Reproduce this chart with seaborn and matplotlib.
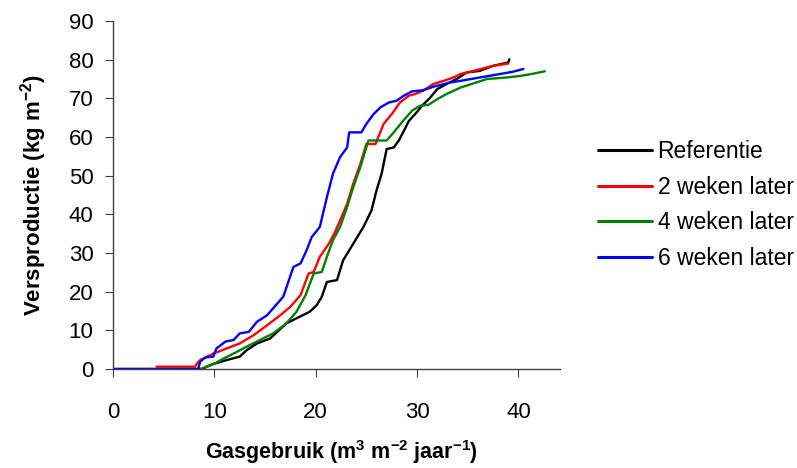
import matplotlib
matplotlib.use("Agg")
import matplotlib.pyplot as plt
import seaborn as sns
import pandas as pd

# ---- data ----
ref_x = [0, 8.8, 9.25, 9.9, 11.2, 12.5, 13.2, 14.2, 15.5, 16.2, 17.1, 18.1, 19.4, 20.1, 20.6, 21.1, 22.1, 22.7, 23.7, 24.7,
         25.5, 26.0, 26.5, 27.0, 27.7, 28.2, 28.7, 29.2, 29.8, 30.5, 31.3, 32.0, 32.9, 33.9, 34.9, 36.2, 37.5, 39.0, 39.1]
ref_y = [0, 0, 0.6, 1.3, 2.3, 3.2, 4.9, 6.6, 7.9, 9.6, 11.8, 13.1, 14.8, 16.5, 18.7, 22.5, 23.0, 28.1, 32.4, 36.7,
         41.0, 46.2, 50.5, 56.9, 57.3, 59.1, 61.6, 64.2, 65.9, 68.1, 70.2, 72.4, 73.7, 75.0, 76.7, 77.1, 78.4, 79.3, 80.1]

w2_x = [4.3, 8.1, 8.3, 8.6, 9.9, 11.2, 12.5, 13.9, 15.2, 16.5, 17.5, 18.5, 19.3, 19.8, 20.4, 21.3, 21.9, 22.4, 23.1, 23.7,
        24.4, 25.0, 25.9, 26.7, 27.5, 28.3, 29.2, 29.8, 30.6, 31.6, 32.6, 33.6, 34.3, 35.9, 37.5, 39.0]
w2_y = [0.6, 0.6, 1.5, 2.3, 4.0, 5.3, 6.6, 8.8, 11.3, 13.9, 16.1, 19.1, 24.7, 25.1, 29.0, 32.4, 35.4, 38.4, 42.7, 47.9,
        53.0, 58.2, 58.2, 63.4, 65.9, 68.9, 70.7, 71.1, 72.0, 73.7, 74.5, 75.4, 76.3, 77.3, 78.4, 79.0]

w4_x = [8.6, 9.25, 10.1, 10.9, 11.9, 13.2, 14.5, 15.8, 17.1, 18.1, 19.0, 19.8, 20.6, 21.1, 21.7, 22.4, 23.1, 23.7, 24.4,
        25.2, 27.0, 27.7, 28.5, 29.5, 30.3, 31.1, 32.0, 32.9, 34.3, 35.6, 36.9, 38.9, 40.2, 41.5, 42.6]
w4_y = [0, 0.6, 1.5, 2.7, 4.0, 5.8, 7.5, 9.2, 11.8, 14.8, 19.1, 24.7, 25.1, 29.0, 33.3, 36.7, 41.9, 47.0, 52.2,
        59.1, 59.1, 61.2, 63.8, 66.8, 68.1, 68.3, 69.8, 71.1, 72.8, 73.9, 75.0, 75.4, 75.8, 76.4, 77.0]

w6_x = [0, 8.4, 8.6, 9.1, 9.9, 10.2, 11.1, 11.9, 12.5, 13.4, 14.2, 15.2, 16.2, 16.8, 17.8, 18.5, 19.1, 19.6, 20.4, 21.1,
        21.7, 22.4, 23.1, 23.3, 24.5, 25.0, 25.7, 26.4, 27.2, 28.0, 28.7, 29.5, 30.6, 31.6, 33.3, 34.9, 36.2, 38.2, 39.5, 40.5]
w6_y = [0, 0, 1.9, 3.0, 3.2, 5.3, 7.1, 7.5, 9.2, 9.6, 12.2, 13.9, 16.9, 18.7, 26.4, 27.3, 30.7, 34.1, 36.7, 44.4,
        50.5, 54.8, 57.3, 61.2, 61.2, 63.4, 65.9, 67.7, 68.9, 69.4, 70.7, 71.8, 72.1, 73.0, 74.1, 74.8, 75.4, 76.3, 76.9, 77.6]

series_names = ["Referentie", "2 weken later", "4 weken later", "6 weken later"]
series_colors = ["#000000", "#ff0000", "#008000", "#0000ff"]
x_ticks = [0, 10, 20, 30, 40]
y_ticks = [0, 10, 20, 30, 40, 50, 60, 70, 80, 90]

frames = []
for name, xs, ys in zip(series_names, [ref_x, w2_x, w4_x, w6_x], [ref_y, w2_y, w4_y, w6_y]):
    frames.append(pd.DataFrame({"x": xs, "y": ys, "serie": name}))
df = pd.concat(frames, ignore_index=True)

sns.set_style("white")
plt.rcParams["font.family"] = ["Liberation Sans", "DejaVu Sans"]
plt.rcParams["mathtext.fontset"] = "custom"
plt.rcParams["mathtext.rm"] = "Liberation Sans"
plt.rcParams["mathtext.bf"] = "Liberation Sans:bold"
plt.rcParams["axes.unicode_minus"] = False

fig = plt.figure(figsize=(7.97, 4.68), dpi=100)
ax = fig.add_axes([113 / 797, 1 - 369 / 468, (560 - 113) / 797, (369 - 21) / 468])

sns.lineplot(data=df, x="x", y="y", hue="serie", hue_order=series_names,
             palette=dict(zip(series_names, series_colors)), sort=False, estimator=None,
             units="serie", linewidth=1.7, ax=ax, legend=True)

ax.set_xlim(0, 44.1)
ax.set_ylim(0, 90)
ax.set_xticks(x_ticks)
ax.set_yticks(y_ticks)
ax.tick_params(axis="both", direction="out", length=6, width=0.8, color="#404040",
               labelsize=16, labelcolor="black", bottom=True, left=True)
ax.tick_params(axis="x", pad=18)
ax.tick_params(axis="y", pad=8)
for s in ["top", "right"]:
    ax.spines[s].set_visible(False)
for s in ["left", "bottom"]:
    ax.spines[s].set_color("#404040")
    ax.spines[s].set_linewidth(1.0)

ax.set_xlabel(r"Gasgebruik (m$^{\mathbf{3}}$ m$^{\mathbf{-2}}$ jaar$^{\mathbf{-1}}$)", fontsize=15.5,
              fontweight="bold", color="black")
ax.xaxis.set_label_coords((341 - 113) / 447, -(459 - 369) / 348)
ax.xaxis.label.set_va("baseline")
ax.set_ylabel(r"Versproductie (kg m$^{\mathbf{-2}}$)", fontsize=16, fontweight="bold", labelpad=14, color="black")

handles, labels = ax.get_legend_handles_labels()
ax.get_legend().remove()
leg = fig.legend(handles, labels, loc="center left", bbox_to_anchor=(0.750, 0.562), frameon=False,
                 fontsize=16.5, handlelength=2.36, labelspacing=0.55, handletextpad=0.25, borderpad=0,
                 borderaxespad=0)
for t in leg.get_texts():
    t.set_color("black")
for h in leg.get_lines():
    h.set_linewidth(2.2)

fig.savefig("out.png", dpi=100)
